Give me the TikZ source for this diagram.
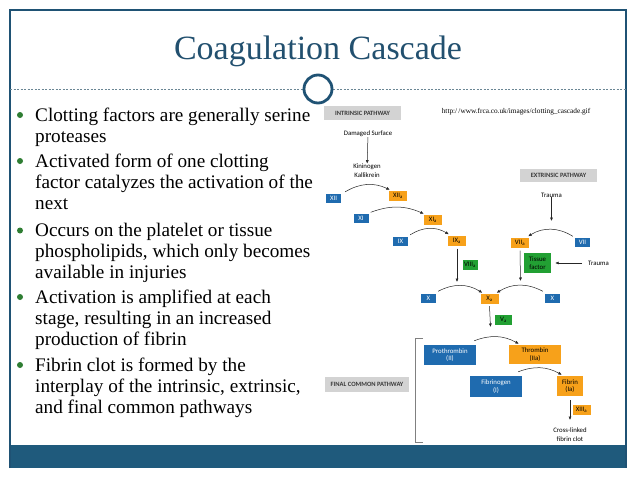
\documentclass[tikz,border=0pt]{standalone}
\usepackage{fontspec}
\setmainfont{Liberation Serif}
\newfontfamily\calfont{Carlito}
\usetikzlibrary{arrows.meta}
\definecolor{cframe}{HTML}{1F5274}
\definecolor{cbar}{HTML}{1F5A7C}
\definecolor{ctitle}{HTML}{22506F}
\definecolor{cblue}{HTML}{1F6BAF}
\definecolor{corange}{HTML}{F7A11A}
\definecolor{cgreen}{HTML}{22A033}
\definecolor{cgbox}{HTML}{D3D3D3}
\definecolor{cgtext}{HTML}{3A3A3A}
\definecolor{cbullet}{HTML}{2E7D32}
\definecolor{cdash}{HTML}{6A8694}
\tikzset{
  lab/.style={font=\calfont\fontsize{6.8}{7.4}\selectfont, inner sep=0pt, align=center},
  blu/.style={lab, fill=cblue, text=white, minimum width=15, minimum height=9},
  org/.style={lab, fill=corange, text=black, minimum width=18, minimum height=10},
  grn/.style={lab, fill=cgreen, text=black, minimum width=15, minimum height=10},
  gbox/.style={fill=cgbox, text=cgtext, font=\calfont\bfseries\fontsize{6.5}{7}\selectfont, inner sep=0pt, minimum height=14},
  sm/.style={font=\calfont\fontsize{6.8}{8.6}\selectfont, inner sep=0pt, align=center},
  arr/.style={-{Latex[length=3.5pt,width=3pt]}, line width=0.5pt, black!85},
  bul/.style={font=\fontsize{19.2}{21}\selectfont, anchor=base west, inner sep=0pt},
}
\begin{document}
\begin{tikzpicture}[x=1pt,y=-1pt]
\useasboundingbox (0,0) rectangle (638,479);
\fill[white] (0,0) rectangle (638,479);
% frame and bar
\fill[cbar] (10,445) rectangle (626,468);
\draw[cframe, line width=1.2pt] (10,468) -- (10,10) -- (626,10) -- (626,468);
% title
\node[font=\fontsize{34}{36}\selectfont, text=ctitle, anchor=base, inner sep=0pt] (title) at (318,59) {Coagulation Cascade};
\draw[cdash, line width=0.5pt, dash pattern=on 2pt off 1.5pt] (10,89) -- (303,89);
\draw[cdash, line width=0.5pt, dash pattern=on 2pt off 1.5pt] (333,89) -- (626,89);
\draw[cframe, line width=2.8pt] (318,89) circle[radius=14pt];
% bullets
\foreach \y in {121,167,236.5,303,371} \fill[cbullet] (20,\y-6) circle[radius=3pt];
\node[bul] (b1a) at (35,121) {Clotting factors are generally serine};
\node[bul] (b1b) at (35,142) {proteases};
\node[bul] (b2a) at (35,167) {Activated form of one clotting};
\node[bul] (b2b) at (35,188) {factor catalyzes the activation of the};
\node[bul] (b2c) at (35,209) {next};
\node[bul] (b3a) at (35,236.5) {Occurs on the platelet or tissue};
\node[bul] (b3b) at (35,257.5) {phospholipids, which only becomes};
\node[bul] (b3c) at (35,278.5) {available in injuries};
\node[bul] (b4a) at (35,303) {Activation is amplified at each};
\node[bul] (b4b) at (35,324.5) {stage, resulting in an increased};
\node[bul] (b4c) at (35,345.8) {production of fibrin};
\node[bul] (b5a) at (35,371) {Fibrin clot is formed by the};
\node[bul] (b5b) at (35,392) {interplay of the intrinsic, extrinsic,};
\node[bul] (b5c) at (35,413) {and final common pathways};
% diagram
\node[gbox, minimum width=77] (intr) at (362.5,113) {INTRINSIC PATHWAY};
\node[font=\fontsize{7.3}{8}\selectfont, inner sep=0pt] (url) at (516,112) {http:/\,/www.frca.co.uk/images/clotting\_cascade.gif};
\node[sm] (dam) at (368,134) {Damaged Surface};
\node[sm] (kin) at (367,170.5) {Kininogen\\Kallikrein};
\draw[arr] (dam) -- (kin);
\node[blu] (xii) at (333.5,198) {XII};
\node[org] (xiia) at (398,196) {XII\textsubscript{a}};
\node[blu] (xi) at (361,218.5) {XI};
\node[org] (xia) at (433,220) {XI\textsubscript{a}};
\node[blu] (ix) at (400.5,241) {IX};
\node[org] (ixa) at (457,240.5) {IX\textsubscript{a}};
\node[grn] (viiia) at (470,265) {VIII\textsubscript{a}};
\node[gbox, minimum width=77, minimum height=13] (extr) at (558.5,175.5) {EXTRINSIC PATHWAY};
\node[sm] (trauma1) at (551.5,195) {Trauma};
\coordinate (t1end) at (551.5,221);
\draw[arr] (trauma1) -- (t1end);
\node[org] (viia) at (520,242.5) {VII\textsubscript{a}};
\node[blu] (vii) at (582.5,242.5) {VII};
\node[grn, minimum width=27, minimum height=20] (tf) at (537.5,263) {Tissue\\factor};
\node[sm, anchor=west] (trauma2) at (588,263) {Trauma};
\draw[arr] ([xshift=-6pt]trauma2.west) -- ([xshift=4pt]tf.east);
\node[blu] (xl) at (428.5,298) {X};
\node[org] (xa) at (489.5,299) {X\textsubscript{a}};
\node[blu] (xr) at (552.5,298) {X};
\node[grn, minimum width=17] (va) at (503.5,320) {V\textsubscript{a}};
\coordinate (ixend) at (457,282);
\coordinate (viiend) at (520.5,281);
\coordinate (xaend) at (490.5,327);
\draw[arr] ([yshift=-3pt]ixa.south) -- (ixend);
\draw[arr] ([yshift=-3pt]viia.south) -- (viiend);
\draw[arr] ([yshift=-2pt]xa.south) -- (xaend);
% curved activation arrows
\draw[arr] ([shift={(4pt,1.5pt)}]xii.north east) to[bend left=28] ([shift={(1pt,1pt)}]xiia.north west);
\draw[arr] ([shift={(2pt,1.5pt)}]xi.north east) to[bend left=22] ([shift={(0pt,1pt)}]xia.north west);
\draw[arr] ([shift={(2pt,1.5pt)}]ix.north east) to[bend left=32] ([shift={(1pt,1pt)}]ixa.north west);
\draw[arr] ([shift={(-2pt,1.5pt)}]vii.north west) to[bend right=32] ([shift={(-1pt,1pt)}]viia.north east);
\draw[arr] ([shift={(2pt,2pt)}]xl.north east) to[bend left=30] ([shift={(2pt,1pt)}]xa.north west);
\draw[arr] ([shift={(-2pt,2pt)}]xr.north west) to[bend right=30] ([shift={(-2pt,1pt)}]xa.north east);
% final common pathway
\node[gbox, minimum width=84, minimum height=15] (fcp) at (367,384.5) {FINAL COMMON PATHWAY};
\draw[gray, line width=0.7pt] (423,338) -- (415,338) -- (415,442) -- (423,442);
\node[blu, minimum width=52, minimum height=20] (proth) at (450,355) {Prothrombin\\(II)};
\node[org, minimum width=52, minimum height=19] (thromb) at (535,354.5) {Thrombin\\(IIa)};
\node[blu, minimum width=52, minimum height=21] (fibgen) at (496,386.5) {Fibrinogen\\(I)};
\node[org, minimum width=26, minimum height=20] (fibrin) at (570,386) {Fibrin\\(Ia)};
\node[org] (xiiia) at (581.5,409.5) {XIII\textsubscript{a}};
\node[sm] (clot) at (570,434.5) {Cross-linked\\fibrin clot};
\coordinate (fibend) at (570,420);
\draw[arr] ([yshift=-4pt]fibrin.south) -- (fibend);
\draw[arr] ([shift={(-2pt,4pt)}]proth.north east) to[bend left=25] ([shift={(10pt,1pt)}]thromb.north west);
\draw[arr] ([shift={(-4pt,4pt)}]fibgen.north east) to[bend left=25] ([shift={(5pt,1pt)}]fibrin.north west);
\end{tikzpicture}
\end{document}
